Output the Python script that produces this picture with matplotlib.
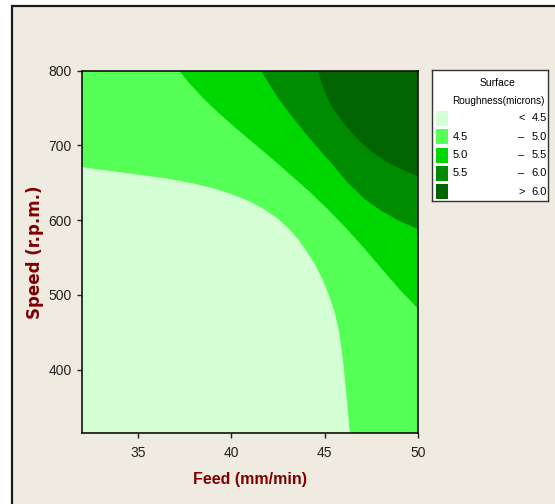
import numpy as np
import matplotlib
matplotlib.use('Agg')
import matplotlib.pyplot as plt
from matplotlib.patches import Rectangle

# contour lines: (feed, speed) where roughness hits each level
feed_45 = [32.0, 33.5, 35.0, 36.5, 38.0, 39.0, 40.0, 41.0, 41.8, 42.5, 43.1, 43.6,
           44.1, 44.5, 44.9, 45.25, 45.55, 45.8, 46.0, 46.18, 46.35]
speed_45 = [671, 666, 661, 656, 649, 643, 635, 625, 614, 602, 588, 574,
            556, 540, 520, 498, 476, 447, 408, 363, 315]
feed_50 = [37.2, 37.8, 38.5, 39.3, 40.2, 41.2, 42.2, 43.2, 44.2, 45.2, 46.2, 47.2,
           48.2, 49.1, 50.0]
speed_50 = [800, 782, 763, 744, 724, 703, 682, 660, 638, 614, 588, 560,
            531, 505, 482]
feed_55 = [41.6, 42.1, 42.6, 43.2, 43.9, 44.7, 45.5, 46.2, 47.1, 48.0, 49.0, 50.0]
speed_55 = [800, 779, 760, 740, 718, 695, 672, 651, 629, 613, 599, 588]
feed_60 = [44.65, 44.75, 44.9, 45.1, 45.4, 45.8, 46.3, 46.9, 47.6, 48.4, 49.2, 50.0]
speed_60 = [800, 791, 779, 766, 751, 737, 721, 705, 690, 677, 667, 659]

levels = ['4.5', '5.0', '5.5', '6.0']
colors = ['#D4FFD4', '#55FF55', '#00D600', '#008C00', '#006400']
feed_lim = (32, 50)
speed_lim = (315, 800)

bg = '#F0EBE0'
red = '#800000'

fig = plt.figure(figsize=(5.55, 5.04), dpi=100, facecolor='white')
fig.patches.append(Rectangle((11.5 / 555, -0.05), 1.1, 1.05 - 5.5 / 504,
                             transform=fig.transFigure, facecolor=bg,
                             edgecolor='#1a1a1a', linewidth=1.6, zorder=-1))

ax = fig.add_axes([82 / 555, 1 - 433.3 / 504, 336 / 555, 362.6 / 504])
ax.set_facecolor(colors[4])
x0, x1 = feed_lim
y0, y1 = speed_lim

# stack regions from the darkest band down to the lightest
for f, s, c in [(feed_60, speed_60, colors[3]),
                (feed_55, speed_55, colors[2]),
                (feed_50, speed_50, colors[1])]:
    ax.fill([x0, x0] + f + [x1], [y0, y1] + s + [y0], color=c, lw=0)
ax.fill([x0] + feed_45, [y0] + speed_45, color=colors[0], lw=0)

ax.set_xlim(feed_lim)
ax.set_ylim(speed_lim)
ax.set_xticks([35, 40, 45, 50])
ax.set_yticks([400, 500, 600, 700, 800])
ax.tick_params(direction='out', length=3.5, width=1, pad=4, labelsize=10,
               colors='#222222')
ax.tick_params(axis='x', pad=6)
for lab in ax.get_xticklabels() + ax.get_yticklabels():
    lab.set_family('Liberation Sans')
for sp in ax.spines.values():
    sp.set_linewidth(1.2)
    sp.set_color('#111111')

ax.set_xlabel('Feed (mm/min)', family='Liberation Sans', fontweight='bold',
              fontsize=11.5, color=red, labelpad=8)
ax.set_ylabel('Speed (r.p.m.)', family='DejaVu Sans', fontweight='bold',
              fontsize=12, color=red)
ax.yaxis.set_label_coords(-0.112, 0.5)

# legend box
lg = fig.add_axes([432 / 555, 1 - 201 / 504, 116 / 555, 131 / 504])
lg.set_xlim(432, 548)
lg.set_ylim(201, 70)
lg.set_xticks([])
lg.set_yticks([])
lg.set_facecolor('white')
for sp in lg.spines.values():
    sp.set_linewidth(1.0)
    sp.set_color('#333333')

font = 'Liberation Sans'
lg.text(498, 83, 'Surface', ha='center', va='center', fontsize=7.5, family=font)
lg.text(498, 101, 'Roughness(microns)', ha='center', va='center', fontsize=7.2, family=font)

row_y = [118.3, 136.7, 155, 173.3, 191.7]
lows = [''] + levels[:3] + ['']
highs = levels + [levels[-1]]
marks = ['<', '–', '–', '–', '>']
for i in range(5):
    y = row_y[i]
    lg.add_patch(Rectangle((436, y - 7.5), 11.5, 15, facecolor=colors[i], edgecolor='none'))
    lg.text(453, y, lows[i], ha='left', va='center', fontsize=8, family=font)
    lg.text(521.5, y, marks[i], ha='center', va='center', fontsize=8, family=font)
    lg.text(531.5, y, highs[i], ha='left', va='center', fontsize=8, family=font)

plt.savefig('out.png', dpi=100, facecolor=fig.get_facecolor())
